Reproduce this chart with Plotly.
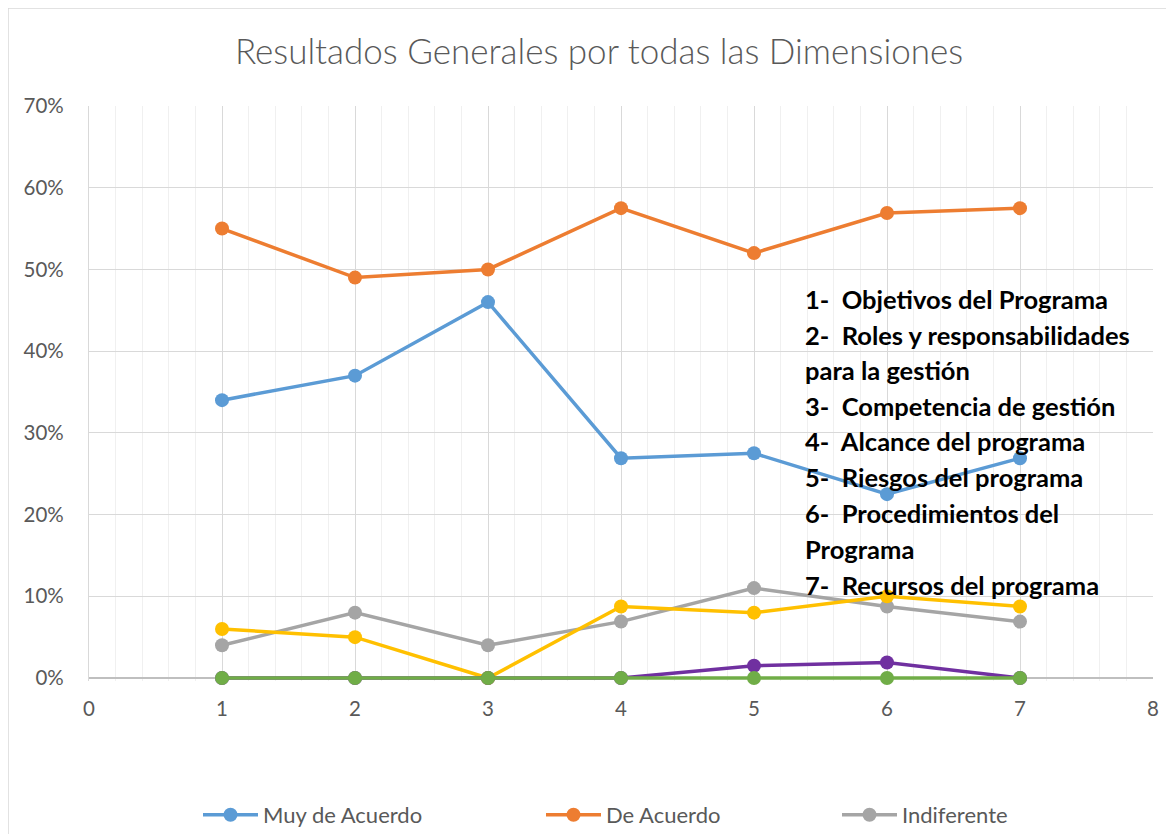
import plotly.graph_objects as go

dimensiones = [1, 2, 3, 4, 5, 6, 7]
muy_de_acuerdo = [0.34, 0.37, 0.46, 0.269, 0.275, 0.225, 0.269]
de_acuerdo = [0.55, 0.49, 0.50, 0.575, 0.52, 0.569, 0.575]
indiferente = [0.04, 0.08, 0.04, 0.069, 0.11, 0.0875, 0.069]
en_desacuerdo = [0.06, 0.05, 0.0, 0.0875, 0.08, 0.10, 0.0875]
muy_en_desacuerdo = [0.0, 0.0, 0.0, 0.0, 0.015, 0.019, 0.0]
no_responde = [0.0, 0.0, 0.0, 0.0, 0.0, 0.0, 0.0]

series = [
    ("Muy de Acuerdo", muy_de_acuerdo, "#5B9BD5", "legend"),
    ("De Acuerdo", de_acuerdo, "#ED7D31", "legend2"),
    ("Indiferente", indiferente, "#A5A5A5", "legend3"),
    ("En Desacuerdo", en_desacuerdo, "#FFC000", None),
    ("Muy en Desacuerdo", muy_en_desacuerdo, "#7030A0", None),
    ("No Responde", no_responde, "#70AD47", None),
]

leyenda_dimensiones = [
    "1-  Objetivos del Programa",
    "2-  Roles y responsabilidades",
    "para la gestión",
    "3-  Competencia de gestión",
    "4-  Alcance del programa",
    "5-  Riesgos del programa",
    "6-  Procedimientos del",
    "Programa",
    "7-  Recursos del programa",
]

OFF = 8  # page body margin
PAD = 3  # extra pixels below 0% so the zero-level lines are not clipped
W, H = 1174 - OFF, 834 - OFF
L, R, T, B = 89 - OFF, 1153 - OFF, 106 - OFF, 678 + PAD - OFF
Y_LO = -0.7 * PAD / (678 - 106)


def px_x(p):
    return (p - OFF - L) / (R - L)


def px_y(p):
    return (B - (p - OFF)) / (B - T)


fig = go.Figure()
for name, vals, color, leg in series:
    kw = dict(showlegend=leg is not None)
    if leg:
        kw["legend"] = leg
    fig.add_trace(go.Scatter(
        x=dimensiones, y=vals, name=name, mode="lines+markers",
        line=dict(color=color, width=3.5),
        marker=dict(color=color, size=14),
        cliponaxis=False,
        **kw,
    ))

font_family = "Lato, 'Open Sans', sans-serif"
tick_font = dict(family=font_family, size=20.5, color="#595959")

leg_common = dict(
    orientation="h", xanchor="left", yanchor="middle",
    font=dict(family=font_family, size=22, color="#595959"),
    bgcolor="rgba(0,0,0,0)", itemwidth=55,
)

annotations = []
line_ys = [299, 335, 370, 406, 441, 477, 513, 549, 585]
for txt, yy in zip(leyenda_dimensiones, line_ys):
    annotations.append(dict(
        text=f"<b>{txt}</b>", xref="paper", yref="paper",
        x=px_x(803), y=px_y(yy), xanchor="left", yanchor="middle",
        showarrow=False, font=dict(family=font_family, size=25.5, color="#000000"),
    ))

fig.update_layout(
    width=W, height=H,
    margin=dict(l=L, r=W - R, t=T, b=H - B, autoexpand=False),
    paper_bgcolor="white", plot_bgcolor="white",
    title=dict(
        text="Resultados Generales por todas las Dimensiones",
        x=px_x(599), xref="paper", xanchor="center",
        y=1 - (52 - OFF) / H, yanchor="middle",
        font=dict(family=font_family, size=35, color="#595959", weight=300),
    ),
    xaxis=dict(
        range=[0, 8], dtick=1, tick0=0, showgrid=True, gridcolor="#D9D9D9", gridwidth=1.3,
        minor=dict(dtick=0.2, showgrid=True, gridcolor="#F0F0F0", gridwidth=1.3),
        showline=False, layer="below traces",
        zeroline=False, ticks="", tickfont=tick_font, ticklabelstandoff=13,
    ),
    yaxis=dict(
        range=[Y_LO, 0.7], dtick=0.1, tick0=0, tickformat=".0%", showgrid=True,
        gridcolor="#D9D9D9", gridwidth=1.3, showline=True, linecolor="#D9D9D9",
        linewidth=1.3, zeroline=True, zerolinecolor="#BFBFBF", zerolinewidth=1.5,
        ticks="", tickfont=tick_font,
        ticklabelstandoff=20, layer="below traces",
    ),
    legend=dict(x=px_x(198), y=px_y(815), **leg_common),
    legend2=dict(x=px_x(541), y=px_y(815), **leg_common),
    legend3=dict(x=px_x(837), y=px_y(815), **leg_common),
    annotations=annotations,
    shapes=[dict(
        type="rect", xref="paper", yref="paper",
        x0=px_x(8), y0=px_y(900), x1=px_x(1200), y1=px_y(8),
        line=dict(color="#D9D9D9", width=1.5), layer="below",
    )],
)

fig.write_html("out.html")
